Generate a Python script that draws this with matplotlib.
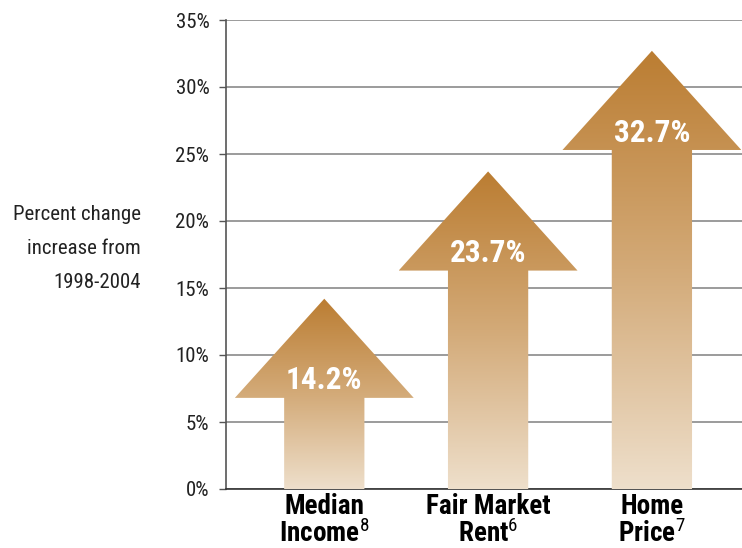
import matplotlib
matplotlib.use('Agg')
import matplotlib.pyplot as plt
import numpy as np
from matplotlib.patches import Polygon
from matplotlib.colors import LinearSegmentedColormap

categories = ['Median\nIncome$^{\\mathrm{8}}$', 'Fair Market\nRent$^{\\mathrm{6}}$', 'Home\nPrice$^{\\mathrm{7}}$']
values = [14.2, 23.7, 32.7]
value_labels = ['14.2%', '23.7%', '32.7%']
yticks = [0, 5, 10, 15, 20, 25, 30, 35]

plt.rcParams['font.family'] = ['Roboto Condensed', 'DejaVu Sans']
plt.rcParams['mathtext.fontset'] = 'custom'
plt.rcParams['mathtext.rm'] = 'Roboto Condensed'

fig = plt.figure(figsize=(7.42, 5.48), dpi=100)
ax = fig.add_axes([226 / 742, 1 - 489 / 548, 1 - 226 / 742, (489 - 20) / 548])

cmap = LinearSegmentedColormap.from_list('arrow', ['#eedfcb', '#d3aa78', '#bb7d32'])
head_h = 7.4
head_w = 0.546
shaft_w = 0.245

for i, v in enumerate(values):
    pts = [(i - shaft_w, 0), (i + shaft_w, 0), (i + shaft_w, v - head_h),
           (i + head_w, v - head_h), (i, v), (i - head_w, v - head_h),
           (i - shaft_w, v - head_h)]
    poly = Polygon(pts, closed=True, facecolor='none', edgecolor='none', zorder=3)
    ax.add_patch(poly)
    grad = np.linspace(0, 1, 256).reshape(-1, 1)
    im = ax.imshow(grad, cmap=cmap, origin='lower', aspect='auto',
                   extent=(i - head_w, i + head_w, 0, v), zorder=3)
    im.set_clip_path(poly)
    ax.text(i, v - 6.1, value_labels[i], color='white', fontsize=22.5,
            fontweight='bold', ha='center', va='center', zorder=4)

ax.set_xlim(-0.60, 2.55)
ax.set_ylim(0, 35)
ax.set_yticks(yticks)
ax.set_yticklabels([f'{t}%' for t in yticks], fontsize=15, color='#222222')
ax.set_xticks(range(len(categories)))
ax.set_xticklabels(categories, fontsize=19.5, fontweight='bold', linespacing=0.95)
ax.tick_params(axis='x', length=0, pad=3)
ax.tick_params(axis='y', length=5, width=1, color='#555555', pad=7)
ax.grid(axis='y', color='#8a8a8a', linewidth=1.2, zorder=0)
ax.set_axisbelow(True)
for s in ['top', 'right']:
    ax.spines[s].set_visible(False)
ax.spines['left'].set_color('#555555')
ax.spines['bottom'].set_color('#333333')
ax.spines['left'].set_linewidth(1.2)
ax.spines['bottom'].set_linewidth(1.2)

fig.text(141 / 742, 1 - 248 / 548, 'Percent change\nincrease from\n1998-2004',
         ha='right', va='center', fontsize=15, linespacing=2.0, color='#222222')

fig.savefig('out.png', dpi=100)
